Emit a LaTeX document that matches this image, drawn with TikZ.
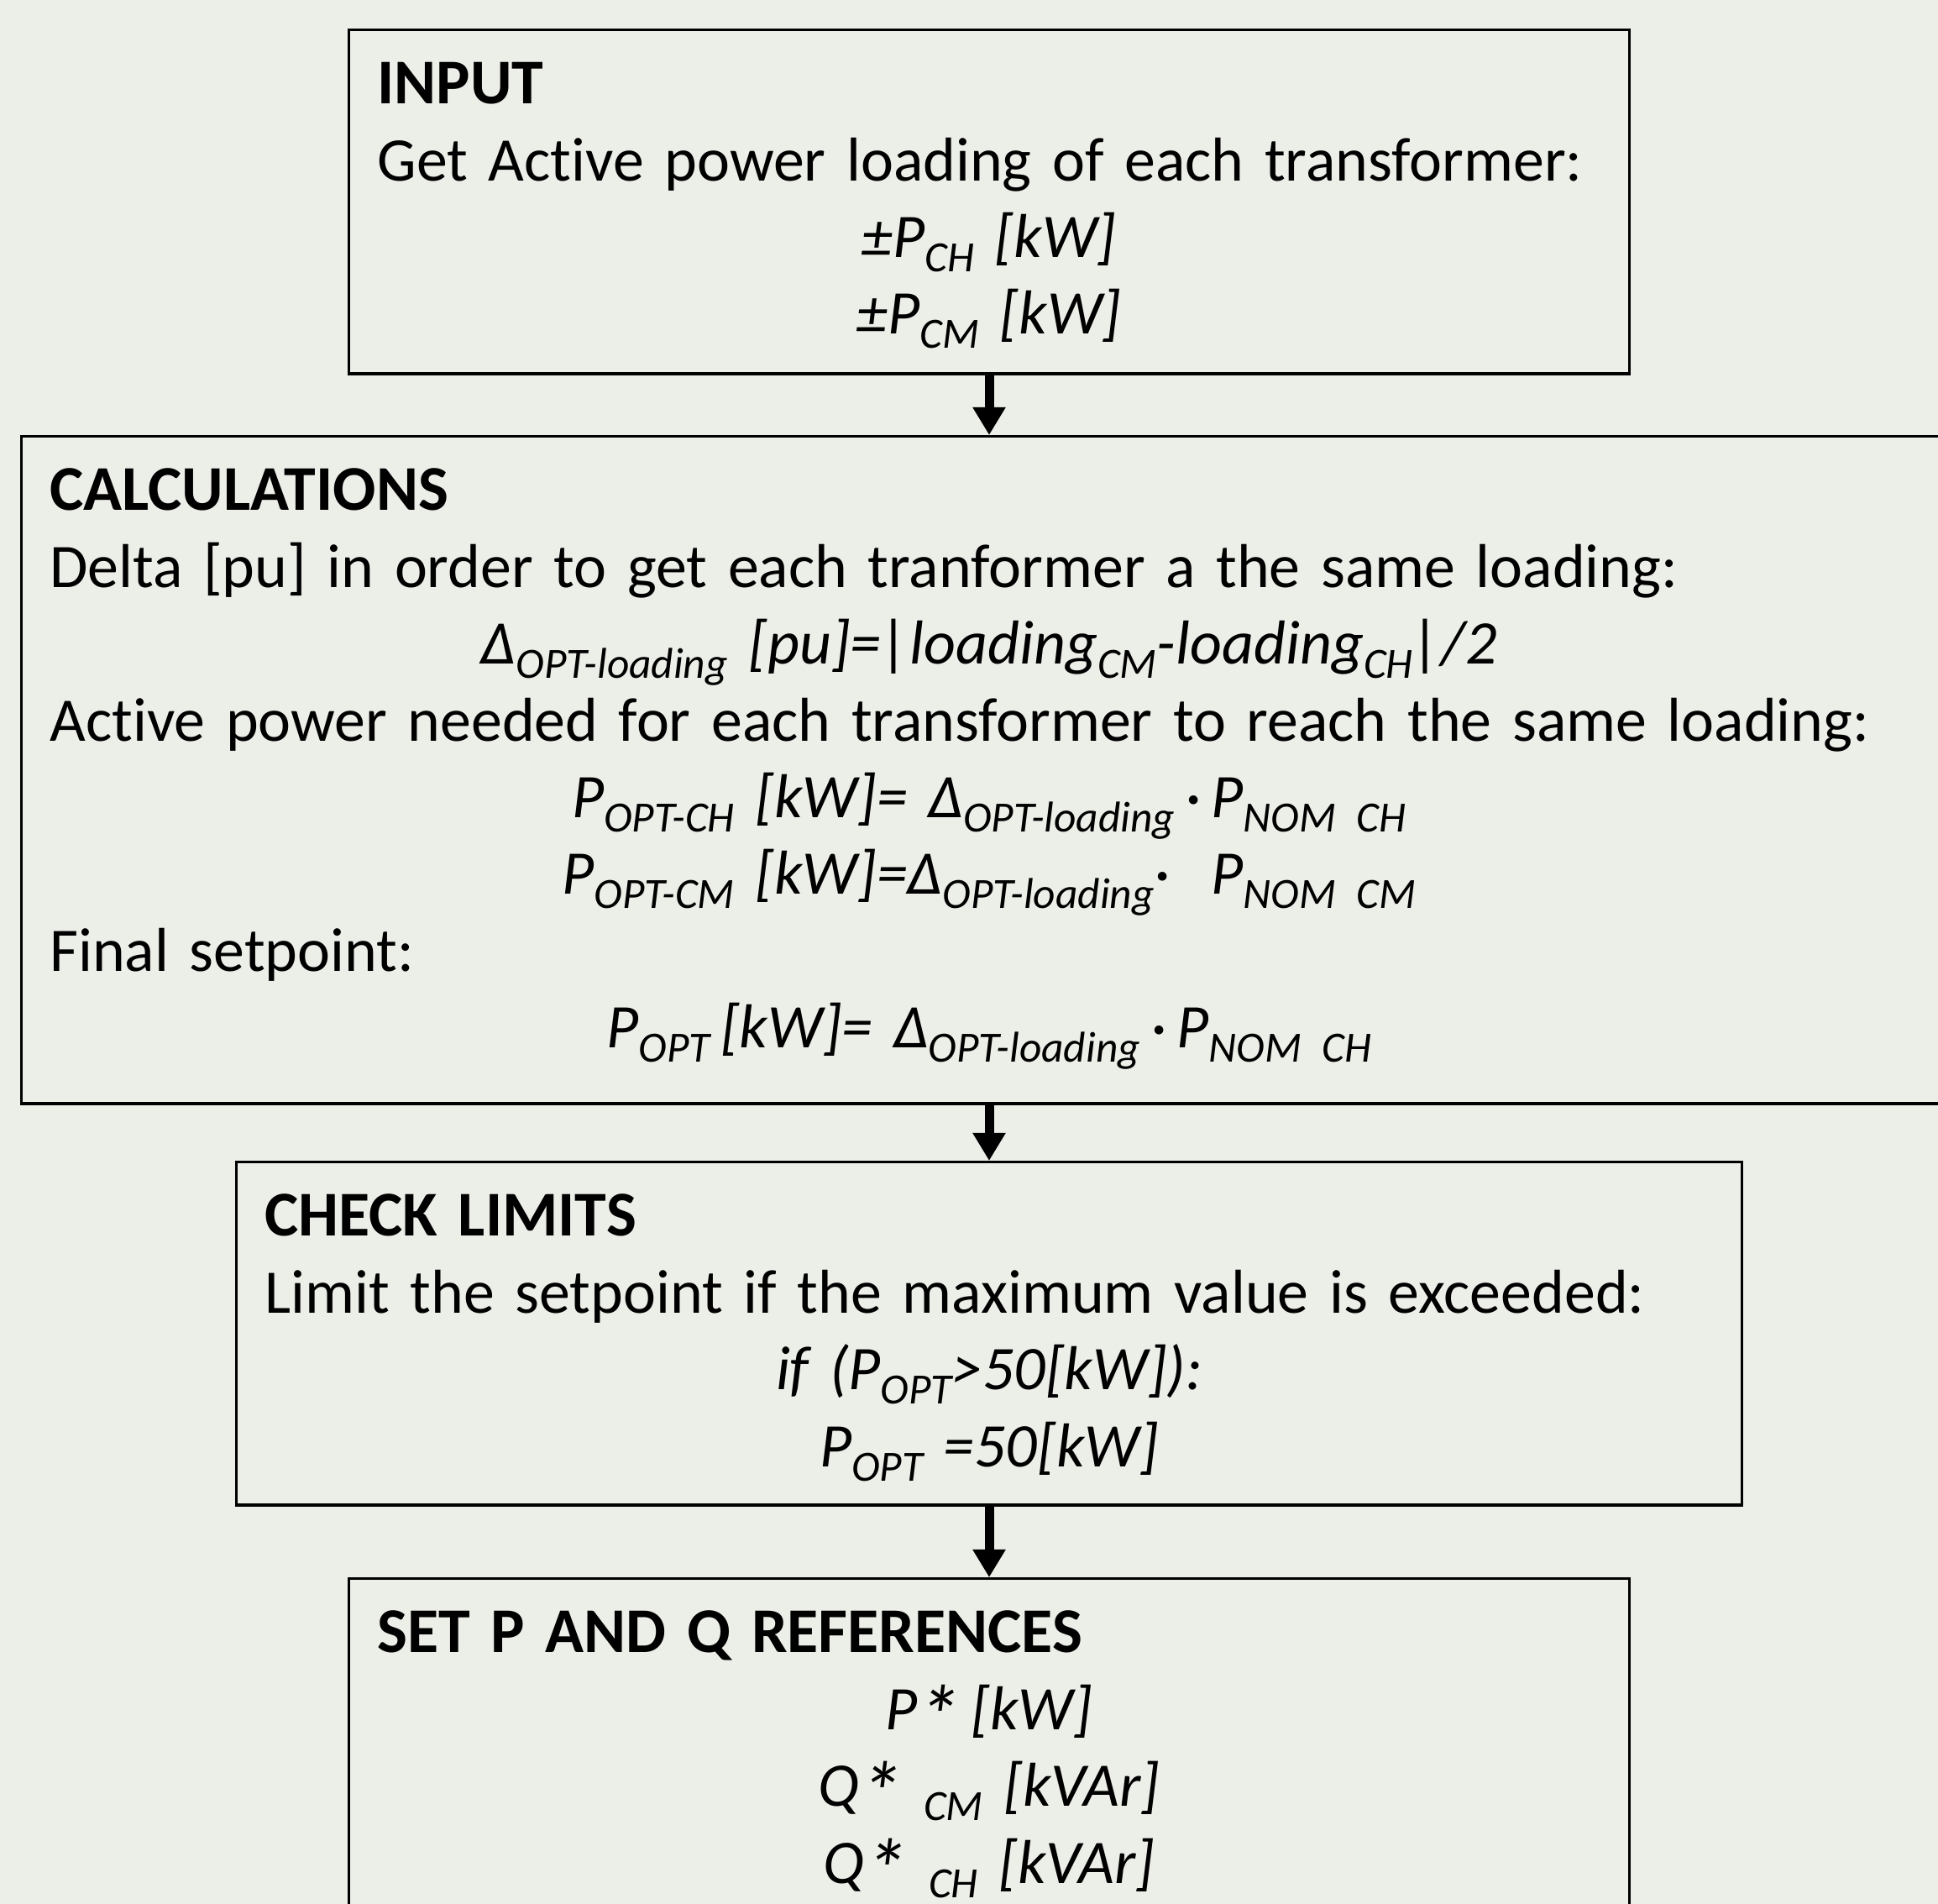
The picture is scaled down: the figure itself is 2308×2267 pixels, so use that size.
\documentclass[tikz,border=0pt]{standalone}
\usepackage{graphicx}
\usepackage{fontspec}
\setmainfont{Carlito}[Ligatures={TeX,NoCommon}]
\usetikzlibrary{arrows.meta}
\definecolor{slidebg}{RGB}{236,238,232}
\newcommand{\subidx}[1]{\raisebox{-0.17cm}{\fontsize{14.6pt}{14.6pt}\selectfont #1}}
\newcommand{\steptitle}[1]{{\fontsize{21.6pt}{26pt}\selectfont\bfseries #1}\par}
\newcommand{\refast}{\raisebox{-0.2cm}{\scalebox{1.4}{*}}}

\begin{document}
\begin{tikzpicture}[x=0.01cm,y=-0.01cm,
    stepbox/.style={draw, line width=0.033cm, anchor=north, align=left, inner xsep=0.34cm, inner ysep=0pt,
        text height=0.88cm, font=\fontsize{21pt}{26pt}\selectfont},
    flow/.style={line width=0.11cm, -{Triangle[length=0.33cm,width=0.37cm]}}]
    % background of the slide
    \fill[slidebg] (0,0) rectangle (2308,2267);
    \useasboundingbox (0,0) rectangle (2308,2267);
    \clip (0,0) rectangle (2308,2267);

    % the four steps
    \node[stepbox, text width=14.56cm, text depth=3.21cm] (input) at (1178,34) {%
        \steptitle{INPUT}
        Get Active power loading of each transformer:\par
        {\centering\itshape ±P\subidx{CH} [kW]\par ±P\subidx{CM} [kW]\par}};
    \node[stepbox, text width=22.36cm, text depth=7.06cm] (calc) at (1178,518) {%
        \steptitle{CALCULATIONS}
        Delta [pu] in order to get each tranformer a the same loading:\par
        {\centering\itshape Δ\subidx{OPT-loading} [pu]=|loading\subidx{CM}-loading\subidx{CH}|/2\par}
        Active power needed for each transformer to reach the same loading:\par
        {\centering\itshape P\subidx{OPT-CH} [kW]= Δ\subidx{OPT-loading}\,·\,P\subidx{NOM CH}\par
        P\subidx{OPT-CM} [kW]=Δ\subidx{OPT-loading}·\ \ P\subidx{NOM CM}\par}
        Final setpoint:\par
        {\centering\itshape P\subidx{OPT}\,[kW]= Δ\subidx{OPT-loading}\,·\,P\subidx{NOM CH}\par}};
    \node[stepbox, text width=17.24cm, text depth=3.20cm] (check) at (1178,1382) {%
        \steptitle{CHECK LIMITS}
        Limit the setpoint if the maximum value is exceeded:\par
        {\centering\itshape if (P\subidx{OPT}>50[kW]):\par P\subidx{OPT} =50[kW]\par}};
    \node[stepbox, text width=14.56cm, text depth=3.21cm] (setpq) at (1178,1878) {%
        \steptitle{SET P AND Q REFERENCES}
        {\centering\itshape P\refast\,[kW]\par Q\refast\ \subidx{CM} [kVAr]\par Q\refast\ \subidx{CH} [kVAr]\par}};

    % arrows between the steps
    \draw[flow] (input.south) -- (calc.north);
    \draw[flow] (calc.south) -- (check.north);
    \draw[flow] (check.south) -- (setpq.north);
\end{tikzpicture}
\end{document}
